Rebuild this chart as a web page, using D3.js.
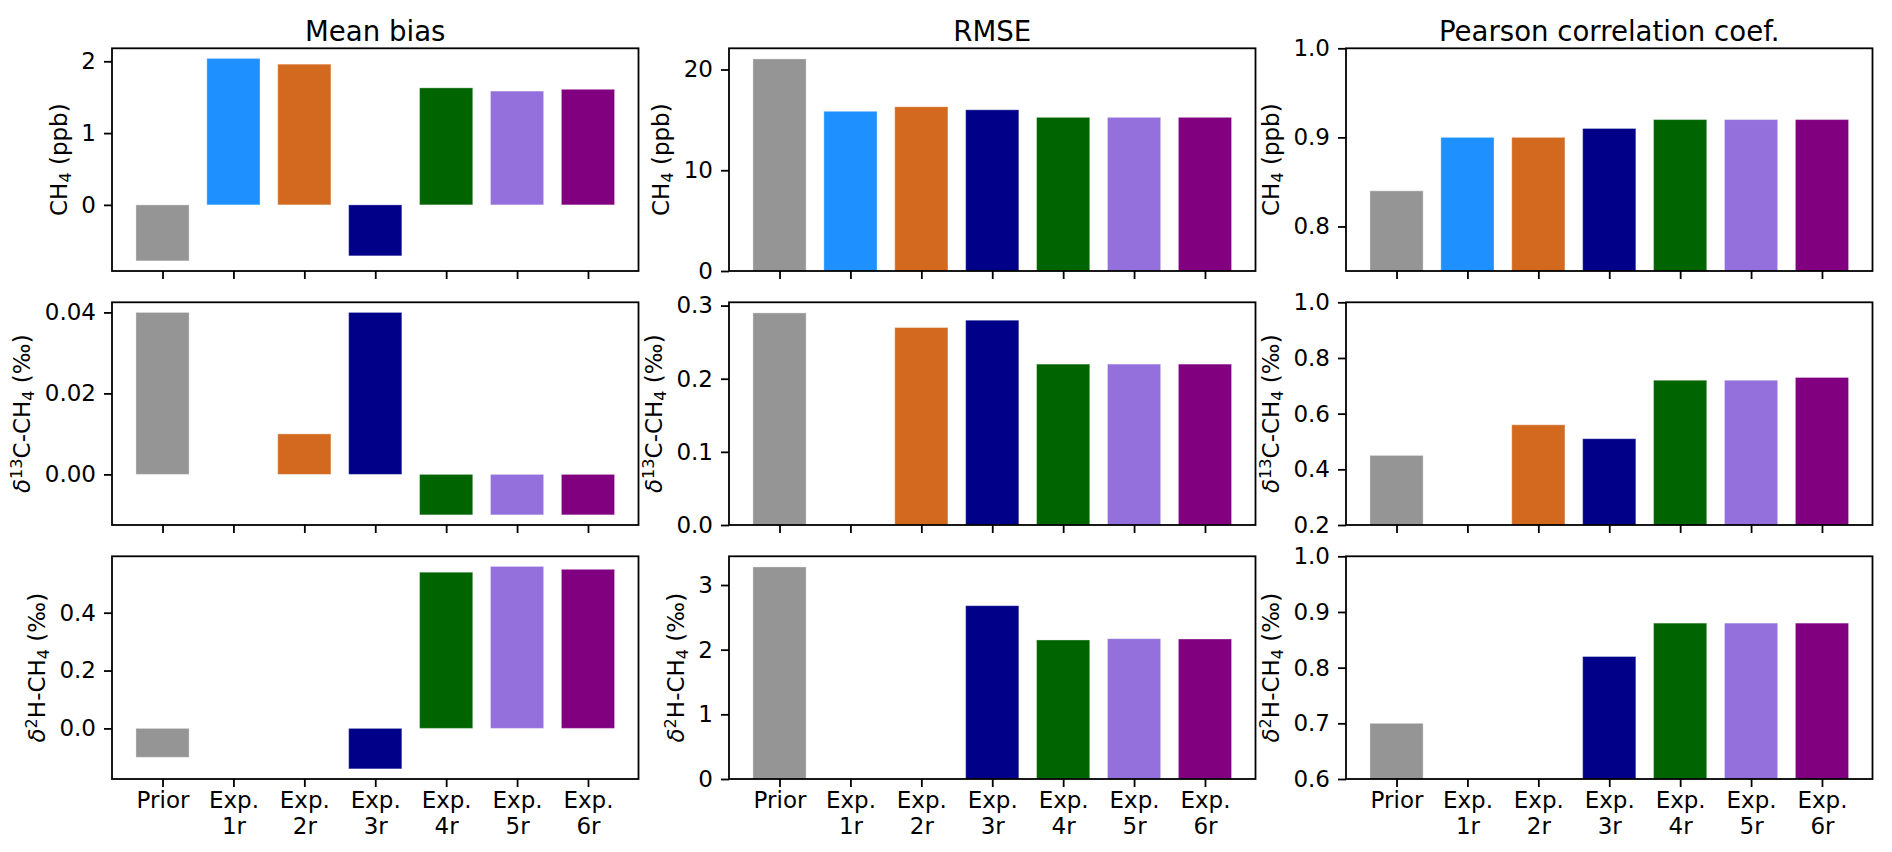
<!DOCTYPE html>
<html>
<head>
<meta charset="utf-8">
<script src="https://cdn.jsdelivr.net/npm/d3@7/dist/d3.min.js"></script>
<style>
    body { margin: 0; background: #fff; }
    svg { display: block; font-family: "DejaVu Sans", sans-serif; }
</style>
</head>
<body>
<script>
'use strict';

//#region DATA
const categories = ['Prior', 'Exp.\n1r', 'Exp.\n2r', 'Exp.\n3r', 'Exp.\n4r', 'Exp.\n5r', 'Exp.\n6r'];
const colTitles = ['Mean bias', 'RMSE', 'Pearson correlation coef.'];

// mean bias
const biasCH4 = [-0.78, 2.04, 1.96, -0.71, 1.63, 1.585, 1.61];
const biasD13C = [0.04, null, 0.01, 0.04, -0.01, -0.01, -0.01];
const biasD2H = [-0.10, null, null, -0.14, 0.54, 0.56, 0.55];

// rmse
const rmseCH4 = [21.05, 15.85, 16.3, 16.0, 15.25, 15.25, 15.25];
const rmseD13C = [0.29, null, 0.27, 0.28, 0.22, 0.22, 0.22];
const rmseD2H = [3.28, null, null, 2.68, 2.15, 2.17, 2.165];

// pearson correlation
const corrCH4 = [0.84, 0.90, 0.90, 0.91, 0.92, 0.92, 0.92];
const corrD13C = [0.45, null, 0.56, 0.51, 0.72, 0.72, 0.73];
const corrD2H = [0.70, null, null, 0.82, 0.88, 0.88, 0.88];

// y ticks and their labels, row by row
const ticksBiasCH4 = [2, 1, 0];
const labelsBiasCH4 = ['2', '1', '0'];
const ticksBiasD13C = [0.04, 0.02, 0.00];
const labelsBiasD13C = ['0.04', '0.02', '0.00'];
const ticksBiasD2H = [0.4, 0.2, 0.0];
const labelsBiasD2H = ['0.4', '0.2', '0.0'];
const ticksRmseCH4 = [20, 10, 0];
const labelsRmseCH4 = ['20', '10', '0'];
const ticksRmseD13C = [0.3, 0.2, 0.1, 0.0];
const labelsRmseD13C = ['0.3', '0.2', '0.1', '0.0'];
const ticksRmseD2H = [3, 2, 1, 0];
const labelsRmseD2H = ['3', '2', '1', '0'];
const ticksCorrCH4 = [1.0, 0.9, 0.8];
const labelsCorrCH4 = ['1.0', '0.9', '0.8'];
const ticksCorrD13C = [1.0, 0.8, 0.6, 0.4, 0.2];
const labelsCorrD13C = ['1.0', '0.8', '0.6', '0.4', '0.2'];
const ticksCorrD2H = [1.0, 0.9, 0.8, 0.7, 0.6];
const labelsCorrD2H = ['1.0', '0.9', '0.8', '0.7', '0.6'];

// fixed y limits of the correlation column
const limCorrCH4 = [0.75, 1.0];
const limCorrD13C = [0.2, 1.0];
const limCorrD2H = [0.6, 1.0];
//#endregion

//#region STYLE AND LAYOUT
const COLORS = ['#959595', '#1E90FF', '#D2691E', '#000088', '#006400', '#9370DB', '#800080'];
const W = 1892;
const H = 852;
const AX_LEFT = 112;
const AX_STEP_X = 617;
const AX_W = 526.5;
const AX_TOP = 48.3;
const AX_STEP_Y = 254;
const AX_H = 222.7;
const BAR_W = 0.75;
const FONT = 23;
const TICK = 8;
const PAD = 8;
const LABEL_PAD = 9.2;
const LINE = 1.8;

// y label pieces: plain text, subscript, superscript, italic greek
const rowLabels = [
    [{t: 'CH'}, {t: '4', sub: true}, {t: ' (ppb)'}],
    [{t: 'δ', it: true}, {t: '13', sup: true}, {t: 'C-CH'}, {t: '4', sub: true}, {t: ' (‰)'}],
    [{t: 'δ', it: true}, {t: '2', sup: true}, {t: 'H-CH'}, {t: '4', sub: true}, {t: ' (‰)'}],
];

const panels = [
    [
        {values: biasCH4, ticks: ticksBiasCH4, labels: labelsBiasCH4},
        {values: rmseCH4, ticks: ticksRmseCH4, labels: labelsRmseCH4, sticky: true},
        {values: corrCH4, ticks: ticksCorrCH4, labels: labelsCorrCH4, lim: limCorrCH4},
    ],
    [
        {values: biasD13C, ticks: ticksBiasD13C, labels: labelsBiasD13C},
        {values: rmseD13C, ticks: ticksRmseD13C, labels: labelsRmseD13C, sticky: true},
        {values: corrD13C, ticks: ticksCorrD13C, labels: labelsCorrD13C, lim: limCorrD13C},
    ],
    [
        {values: biasD2H, ticks: ticksBiasD2H, labels: labelsBiasD2H},
        {values: rmseD2H, ticks: ticksRmseD2H, labels: labelsRmseD2H, sticky: true},
        {values: corrD2H, ticks: ticksCorrD2H, labels: labelsCorrD2H, lim: limCorrD2H},
    ],
];
//#endregion

//#region HELPERS
// matplotlib style autoscale: 5% margins, bars always include 0
function yDomain(p) {
    if (p.lim) return p.lim;
    const v = p.values.filter(d => d !== null).concat([0]);
    const lo = d3.min(v);
    const hi = d3.max(v);
    const m = (hi - lo) * 0.05;
    return p.sticky ? [0, hi + m] : [lo - m, hi + m];
}

function xDomain(n) {
    const m = 0.05 * (n - 1 + BAR_W);
    return [-BAR_W / 2 - m, n - 1 + BAR_W / 2 + m];
}

function styleAxis(sel) {
    sel.attr('font-family', null).attr('font-size', null);
    sel.selectAll('.domain').remove();
    sel.selectAll('.tick line').attr('stroke', '#000').attr('stroke-width', LINE);
    sel.selectAll('.tick text').attr('fill', '#000').style('font-size', FONT + 'px');
}
//#endregion

const svg = d3.select('body').append('svg')
    .attr('width', W)
    .attr('height', H);

//column titles
colTitles.forEach((t, c) => {
    svg.append('text')
        .attr('x', AX_LEFT + c * AX_STEP_X + AX_W / 2)
        .attr('y', 40.5)
        .attr('text-anchor', 'middle')
        .style('font-size', (FONT * 1.2) + 'px')
        .text(t);
});

panels.forEach((row, r) => {
    row.forEach((p, c) => {
        const g = svg.append('g')
            .attr('transform', `translate(${AX_LEFT + c * AX_STEP_X},${AX_TOP + r * AX_STEP_Y})`);

        const x = d3.scaleLinear().domain(xDomain(categories.length)).range([0, AX_W]);
        const y = d3.scaleLinear().domain(yDomain(p)).range([AX_H, 0]);

        const clipId = `clip-${r}-${c}`;
        g.append('clipPath').attr('id', clipId)
            .append('rect').attr('width', AX_W).attr('height', AX_H);

        //bars, drawn from zero and clipped to the axes box
        g.append('g')
            .attr('clip-path', `url(#${clipId})`)
            .selectAll('rect')
            .data(p.values.map((v, i) => ({v, i})).filter(d => d.v !== null))
            .join('rect')
            .attr('x', d => x(d.i - BAR_W / 2))
            .attr('width', x(BAR_W) - x(0))
            .attr('y', d => y(Math.max(0, d.v)))
            .attr('height', d => Math.abs(y(0) - y(d.v)))
            .attr('fill', d => COLORS[d.i])
            .attr('stroke', '#fff')
            .attr('stroke-opacity', 0.35)
            .attr('stroke-width', 1);

        //y axis
        const yAxis = g.append('g')
            .call(d3.axisLeft(y)
                .tickValues(p.ticks)
                .tickFormat((d, i) => p.labels[i])
                .tickSize(TICK)
                .tickPadding(PAD)
                .tickSizeOuter(0));
        styleAxis(yAxis);

        //x axis, labels only on the bottom row
        const xAxis = g.append('g')
            .attr('transform', `translate(0,${AX_H})`)
            .call(d3.axisBottom(x)
                .tickValues(d3.range(categories.length))
                .tickFormat('')
                .tickSize(TICK)
                .tickSizeOuter(0));
        styleAxis(xAxis);
        if (r === panels.length - 1) {
            xAxis.selectAll('.tick text').remove();
            xAxis.selectAll('.tick').each(function(d) {
                const t = d3.select(this).append('text')
                    .attr('fill', '#000')
                    .attr('text-anchor', 'middle')
                    .style('font-size', FONT + 'px');
                categories[d].split('\n').forEach((line, k) => {
                    t.append('tspan')
                        .attr('x', 0)
                        .attr('y', 28.5 + k * 26.5)
                        .text(line);
                });
            });
        }

        //frame
        g.append('rect')
            .attr('width', AX_W)
            .attr('height', AX_H)
            .attr('fill', 'none')
            .attr('stroke', '#000')
            .attr('stroke-width', LINE);

        //y label, placed left of the widest tick label
        let maxW = 0;
        yAxis.selectAll('.tick text').each(function() {
            maxW = Math.max(maxW, this.getComputedTextLength());
        });
        const edge = -(TICK + PAD + maxW + LABEL_PAD);
        const label = g.append('text')
            .attr('transform', `translate(${edge - 0.236 * FONT},${AX_H / 2}) rotate(-90)`)
            .attr('text-anchor', 'middle')
            .style('font-size', FONT + 'px');
        rowLabels[r].forEach(part => {
            const ts = label.append('tspan').text(part.t);
            if (part.it) ts.style('font-style', 'italic');
            if (part.sub) ts.style('font-size', (FONT * 0.7) + 'px').attr('baseline-shift', '-4px');
            if (part.sup) ts.style('font-size', (FONT * 0.7) + 'px').attr('baseline-shift', '8px');
        });
    });
});
</script>
</body>
</html>
